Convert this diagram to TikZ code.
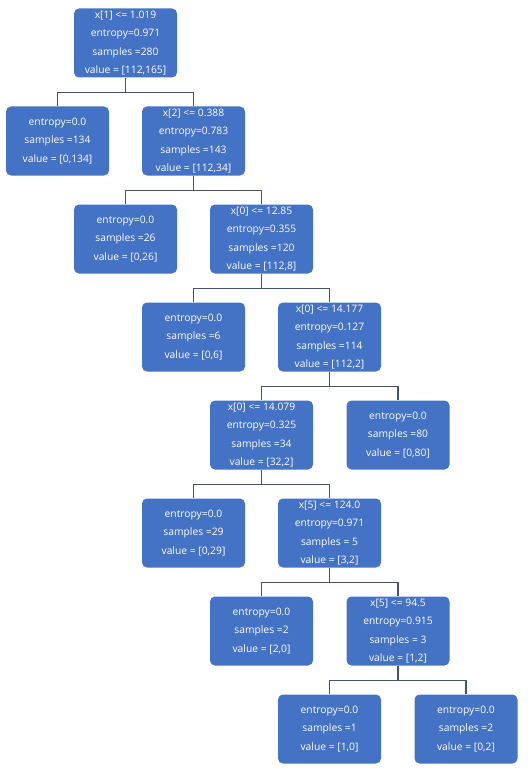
\documentclass[tikz,border=0pt]{standalone}
\usepackage{fontspec}
\setmainfont{Open Sans}
\definecolor{boxblue}{HTML}{4472C4}
\definecolor{linec}{HTML}{44546A}
\begin{document}
\begin{tikzpicture}[x=1pt,y=-1pt,
  tnode/.style={fill=boxblue,draw=none,rounded corners=5pt,minimum width=103pt,minimum height=69pt,
    inner sep=0pt,text=white,align=center,font=\fontsize{10.3}{18.5}\selectfont},
  conn/.style={draw=linec,line width=1.1pt}]
\useasboundingbox (0,0) rectangle (529,770);
\node[tnode] (r) at (125.5,43) {x[1] <= 1.019\\entropy=0.971\\samples =280\\value = [112,165]};
\node[tnode] (a) at (57.5,141) {entropy=0.0\\samples =134\\value = [0,134]};
\node[tnode] (b) at (193.5,141) {x[2] <= 0.388\\entropy=0.783\\samples =143\\value = [112,34]};
\node[tnode] (c) at (125.5,239) {entropy=0.0\\samples =26\\value = [0,26]};
\node[tnode] (d) at (261.5,239) {x[0] <= 12.85\\entropy=0.355\\samples =120\\value = [112,8]};
\node[tnode] (e) at (193.5,337) {entropy=0.0\\samples =6\\value = [0,6]};
\node[tnode] (f) at (329.5,337) {x[0] <= 14.177\\entropy=0.127\\samples =114\\value = [112,2]};
\node[tnode] (g) at (261.5,435) {x[0] <= 14.079\\entropy=0.325\\samples =34\\value = [32,2]};
\node[tnode] (h) at (398,435) {entropy=0.0\\samples =80\\value = [0,80]};
\node[tnode] (i) at (193.5,533) {entropy=0.0\\samples =29\\value = [0,29]};
\node[tnode] (j) at (329.5,533) {x[5] <= 124.0\\entropy=0.971\\samples = 5\\value = [3,2]};
\node[tnode] (k) at (261.5,631) {entropy=0.0\\samples =2\\value = [2,0]};
\node[tnode] (l) at (398,631) {x[5] <= 94.5\\entropy=0.915\\samples = 3\\value = [1,2]};
\node[tnode] (m) at (329.5,729) {entropy=0.0\\samples =1\\value = [1,0]};
\node[tnode] (n) at (466,729) {entropy=0.0\\samples =2\\value = [0,2]};
\foreach \p/\u/\v in {r/a/b,b/c/d,d/e/f,f/g/h,g/i/j,j/k/l,l/m/n}{
  \draw[conn] (\p.south) -- ++(0,14.5) -| (\u.north);
  \draw[conn] (\p.south) ++(0,14.5) -| (\v.north);
}
\end{tikzpicture}
\end{document}
